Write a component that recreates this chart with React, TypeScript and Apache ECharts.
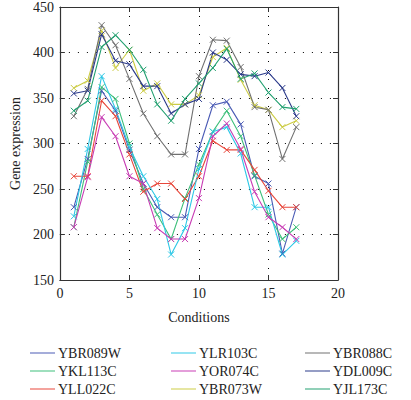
import React, { useEffect, useRef } from "react";
import * as echarts from "echarts";

const conditions = [1, 2, 3, 4, 5, 6, 7, 8, 9, 10, 11, 12, 13, 14, 15, 16, 17];
const geneNames = ["YBR089W", "YKL113C", "YLL022C", "YLR103C", "YOR074C", "YBR073W", "YBR088C", "YDL009C", "YJL173C"];
const geneColors = ["#4b5bb5", "#3dbf7a", "#e8463a", "#2ec8e6", "#c83cb4", "#cccc44", "#707070", "#2b3a8a", "#22a070"];

const YBR089W = [230, 283, 358, 336, 293, 256, 230, 219, 219, 294, 342, 346, 321, 264, 256, 179, 230];
const YKL113C = [208, 280, 362, 349, 300, 250, 222, 195, 240, 277, 313, 336, 308, 265, 222, 195, 208];
const YLL022C = [264, 264, 347, 330, 288, 247, 256, 256, 239, 264, 303, 293, 293, 271, 248, 230, 230];
const YLR103C = [220, 294, 374, 338, 296, 264, 239, 178, 207, 272, 313, 318, 289, 230, 230, 178, 193];
const YOR074C = [208, 263, 329, 308, 264, 256, 207, 195, 195, 240, 308, 322, 294, 247, 219, 208, 195];
const YBR073W = [361, 369, 424, 383, 403, 358, 366, 343, 343, 353, 395, 405, 370, 342, 337, 318, 325];
const YBR088C = [330, 360, 430, 408, 371, 333, 308, 288, 288, 374, 414, 413, 384, 340, 337, 283, 318];
const YDL009C = [355, 358, 420, 391, 387, 363, 363, 333, 343, 349, 400, 392, 376, 374, 378, 361, 330];
const YJL173C = [336, 347, 406, 419, 403, 381, 343, 325, 349, 366, 383, 404, 371, 377, 356, 340, 338];

const geneValues = [YBR089W, YKL113C, YLL022C, YLR103C, YOR074C, YBR073W, YBR088C, YDL009C, YJL173C];

const xTicks = [0, 5, 10, 15, 20];
const yTicks = [150, 200, 250, 300, 350, 400, 450];

const FONT = "'Liberation Serif', 'DejaVu Serif', serif";

export default function App() {
  const ref = useRef<HTMLDivElement>(null);
  useEffect(() => {
    if (!ref.current) return;
    const chart = echarts.init(ref.current, undefined, { renderer: "svg" });
    const grid = { left: 56, right: 73, top: 7, bottom: 120 };
    const dotted = { color: "#000", width: 1, type: [1, 8] as any };
    const series = geneNames.map((name, i) => ({
      name,
      type: "line",
      data: conditions.map((c, j) => [c, geneValues[i][j]]),
      symbol: "path://M0,0 L10,10 M10,0 L0,10",
      symbolSize: 6,
      showSymbol: true,
      lineStyle: { color: geneColors[i], width: 1.1 },
      itemStyle: { color: geneColors[i], borderColor: geneColors[i], borderWidth: 1 },
      z: 3,
    }));
    const legendCols = [
      { left: 30, names: geneNames.slice(0, 3) },
      { left: 171, names: geneNames.slice(3, 6) },
      { left: 305, names: geneNames.slice(6, 9) },
    ];
    chart.setOption({
      animation: false,
      color: geneColors,
      grid,
      xAxis: [
        {
          type: "value",
          min: xTicks[0],
          max: xTicks[xTicks.length - 1],
          interval: 5,
          name: "Conditions",
          nameLocation: "middle",
          nameGap: 30,
          nameTextStyle: { fontFamily: FONT, fontSize: 14, color: "#222" },
          axisLine: { show: true, lineStyle: { color: "#333", width: 1.2 } },
          axisTick: { show: true, inside: true, length: 5, lineStyle: { color: "#333" } },
          axisLabel: { fontFamily: FONT, fontSize: 14, color: "#222", margin: 6 },
          splitLine: { show: true, lineStyle: dotted },
        },
        {
          type: "value",
          position: "top",
          min: xTicks[0],
          max: xTicks[xTicks.length - 1],
          interval: 5,
          axisLine: { show: true, onZero: false, lineStyle: { color: "#333", width: 1.2 } },
          axisTick: { show: true, inside: true, length: 5, lineStyle: { color: "#333" } },
          axisLabel: { show: false },
          splitLine: { show: false },
        },
      ],
      yAxis: [
        {
          type: "value",
          min: yTicks[0],
          max: yTicks[yTicks.length - 1],
          interval: 50,
          name: "Gene expression",
          nameLocation: "middle",
          nameGap: 32,
          nameTextStyle: { fontFamily: FONT, fontSize: 14, color: "#222" },
          axisLine: { show: true, lineStyle: { color: "#333", width: 1.2 } },
          axisTick: { show: true, inside: true, length: 5, lineStyle: { color: "#333" } },
          axisLabel: { fontFamily: FONT, fontSize: 14, color: "#222", margin: 6 },
          splitLine: { show: true, lineStyle: dotted },
        },
        {
          type: "value",
          position: "right",
          min: yTicks[0],
          max: yTicks[yTicks.length - 1],
          interval: 50,
          axisLine: { show: true, onZero: false, lineStyle: { color: "#333", width: 1.2 } },
          axisTick: { show: true, inside: true, length: 5, lineStyle: { color: "#333" } },
          axisLabel: { show: false },
          splitLine: { show: false },
        },
      ],
      legend: legendCols.map((col) => ({
        data: col.names,
        orient: "vertical",
        left: col.left,
        top: 346,
        height: 60,
        padding: 0,
        itemGap: 4,
        itemWidth: 25,
        itemHeight: 1,
        icon: "rect",
        itemStyle: { borderWidth: 0 },
        textStyle: { fontFamily: FONT, fontSize: 14, color: "#222", padding: [0, 0, 0, -2] },
        selectedMode: false,
      })),
      series,
    });
    return () => chart.dispose();
  }, []);
  return <div ref={ref} style={{ width: 411, height: 400, position: "absolute", left: 0, top: 0 }} />;
}
